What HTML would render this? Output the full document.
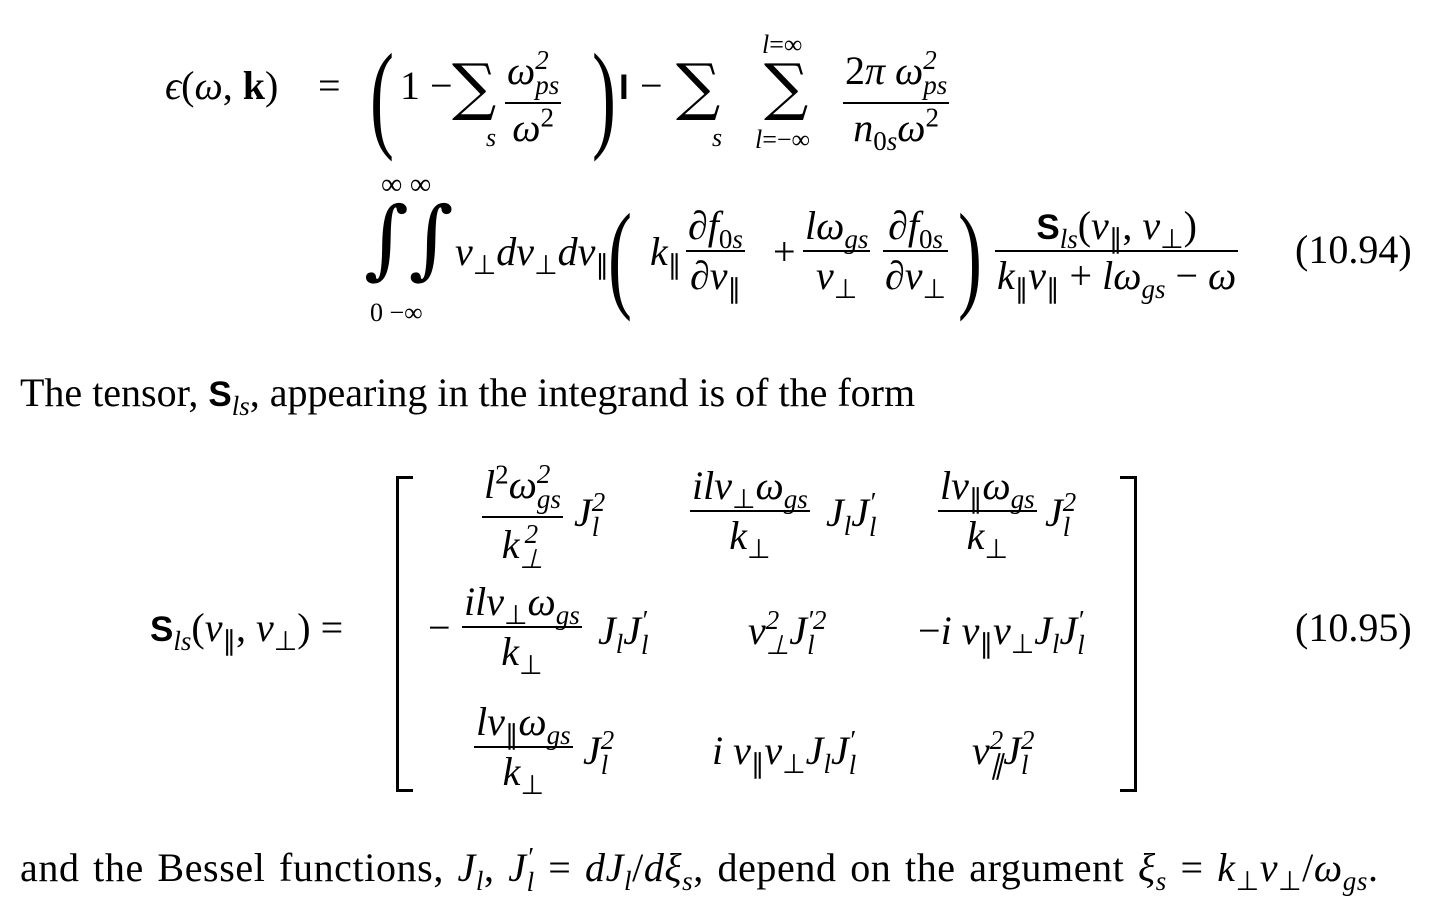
<!DOCTYPE html>
<html><head><meta charset="utf-8">
<style>
body{margin:0;background:#fff;width:1445px;height:889px;overflow:hidden;position:relative;font-family:"Liberation Serif",serif;color:#000;}
.a{position:absolute;white-space:nowrap;font-size:40px;line-height:1;}
i{font-style:italic}
sub,sup{font-size:27px;line-height:0}
.ss{display:inline-flex;flex-direction:column;vertical-align:15px;font-size:27px;line-height:25px;font-style:italic}
.fr{position:absolute;display:flex;flex-direction:column;align-items:center;font-size:40px;line-height:1;white-space:nowrap}
.fr .n{padding:0 2px 4px}
.fr .d{border-top:2px solid #000;padding:4px 2px 0;align-self:stretch;text-align:center}
.big{position:absolute;font-family:"DejaVu Serif",serif;line-height:1}
.par{position:absolute;font-family:"Liberation Serif",serif;line-height:1;font-size:120px;transform:scaleX(0.6);transform-origin:left top}
.sans{font-family:"Liberation Sans",sans-serif;font-weight:bold;font-size:35px}
.br{position:absolute;border:3px solid #000;width:14px}
</style></head><body>

<!-- Equation 10.94 line 1 -->
<div class="a" style="left:165px;top:66px"><i>ϵ</i>(<i>ω</i>, <b>k</b>)</div>
<div class="a" style="left:318px;top:66px">=</div>
<div class="par" style="left:370px;top:36px">(</div>
<div class="a" style="left:400px;top:66px">1 −</div>
<div class="big" style="left:452px;top:56px;font-size:62px">∑</div>
<div class="a" style="left:486px;top:125px;font-size:26px"><i>s</i></div>
<div class="fr" style="left:505px;top:48px"><div class="n"><i>ω</i><span class="ss"><span>2</span><span>ps</span></span></div><div class="d"><i>ω</i><sup>2</sup></div></div>
<div class="par" style="left:592px;top:36px">)</div>
<div class="a sans" style="left:619px;top:70px">I</div>
<div class="a" style="left:640px;top:66px">−</div>
<div class="big" style="left:676px;top:56px;font-size:62px">∑</div>
<div class="a" style="left:712px;top:125px;font-size:26px"><i>s</i></div>
<div class="a" style="left:762px;top:32px;font-size:26px"><i>l</i>=∞</div>
<div class="big" style="left:764px;top:56px;font-size:62px">∑</div>
<div class="a" style="left:755px;top:127px;font-size:26px"><i>l</i>=−∞</div>
<div class="fr" style="left:843px;top:48px"><div class="n">2<i>π ω</i><span class="ss"><span>2</span><span>ps</span></span></div><div class="d"><i>n</i><sub>0<i>s</i></sub><i>ω</i><sup>2</sup></div></div>

<!-- line 2 -->
<div class="a" style="left:381px;top:170px;font-size:30px">∞ ∞</div>
<div class="big" style="left:364px;top:196px;font-size:86px;font-style:italic">∫∫</div>
<div class="a" style="left:370px;top:300px;font-size:26px">0 −∞</div>
<div class="a" style="left:455px;top:232px"><i>v</i><sub>⊥</sub><i>dv</i><sub>⊥</sub><i>dv</i><sub>∥</sub></div>
<div class="par" style="left:608px;top:196px">(</div>
<div class="a" style="left:650px;top:232px"><i>k</i><sub>∥</sub></div>
<div class="fr" style="left:686px;top:206px"><div class="n">∂<i>f</i><sub>0<i>s</i></sub></div><div class="d">∂<i>v</i><sub>∥</sub></div></div>
<div class="a" style="left:773px;top:232px">+</div>
<div class="fr" style="left:803px;top:206px"><div class="n"><i>lω</i><sub><i>gs</i></sub></div><div class="d"><i>v</i><sub>⊥</sub></div></div>
<div class="fr" style="left:883px;top:206px"><div class="n">∂<i>f</i><sub>0<i>s</i></sub></div><div class="d">∂<i>v</i><sub>⊥</sub></div></div>
<div class="par" style="left:958px;top:196px">)</div>
<div class="fr" style="left:995px;top:206px"><div class="n"><span class="sans">S</span><sub><i>ls</i></sub>(<i>v</i><sub>∥</sub>, <i>v</i><sub>⊥</sub>)</div><div class="d"><i>k</i><sub>∥</sub><i>v</i><sub>∥</sub> + <i>lω</i><sub><i>gs</i></sub> − <i>ω</i></div></div>
<div class="a" style="left:1295px;top:230px">(10.94)</div>

<!-- text line -->
<div class="a" style="left:20px;top:373px">The tensor, <span class="sans">S</span><sub><i>ls</i></sub>, appearing in the integrand is of the form</div>

<!-- matrix -->
<div class="a" style="left:150px;top:608px"><span class="sans">S</span><sub><i>ls</i></sub>(<i>v</i><sub>∥</sub>, <i>v</i><sub>⊥</sub>) =</div>
<div class="br" style="left:396px;top:476px;height:310px;border-right:none"></div>
<div class="br" style="left:1120px;top:476px;height:310px;border-left:none"></div>

<div class="fr" style="left:482px;top:462px"><div class="n"><i>l</i><sup>2</sup><i>ω</i><span class="ss"><span>2</span><span>gs</span></span></div><div class="d"><i>k</i><span class="ss"><span>2</span><span>⊥</span></span></div></div>
<div class="a" style="left:574px;top:490px"><i>J</i><span class="ss"><span>2</span><span>l</span></span></div>
<div class="fr" style="left:690px;top:466px"><div class="n"><i>ilv</i><sub>⊥</sub><i>ω</i><sub><i>gs</i></sub></div><div class="d"><i>k</i><sub>⊥</sub></div></div>
<div class="a" style="left:826px;top:490px"><i>J<sub>l</sub>J</i><span class="ss"><span>′</span><span>l</span></span></div>
<div class="fr" style="left:938px;top:466px"><div class="n"><i>lv</i><sub>∥</sub><i>ω</i><sub><i>gs</i></sub></div><div class="d"><i>k</i><sub>⊥</sub></div></div>
<div class="a" style="left:1045px;top:490px"><i>J</i><span class="ss"><span>2</span><span>l</span></span></div>

<div class="a" style="left:428px;top:608px">−</div>
<div class="fr" style="left:462px;top:582px"><div class="n"><i>ilv</i><sub>⊥</sub><i>ω</i><sub><i>gs</i></sub></div><div class="d"><i>k</i><sub>⊥</sub></div></div>
<div class="a" style="left:598px;top:608px"><i>J<sub>l</sub>J</i><span class="ss"><span>′</span><span>l</span></span></div>
<div class="a" style="left:748px;top:608px"><i>v</i><span class="ss"><span>2</span><span>⊥</span></span><i>J</i><span class="ss"><span>′2</span><span>l</span></span></div>
<div class="a" style="left:918px;top:608px">−<i>i v</i><sub>∥</sub><i>v</i><sub>⊥</sub><i>J<sub>l</sub>J</i><span class="ss"><span>′</span><span>l</span></span></div>

<div class="fr" style="left:474px;top:702px"><div class="n"><i>lv</i><sub>∥</sub><i>ω</i><sub><i>gs</i></sub></div><div class="d"><i>k</i><sub>⊥</sub></div></div>
<div class="a" style="left:583px;top:728px"><i>J</i><span class="ss"><span>2</span><span>l</span></span></div>
<div class="a" style="left:712px;top:728px"><i>i v</i><sub>∥</sub><i>v</i><sub>⊥</sub><i>J<sub>l</sub>J</i><span class="ss"><span>′</span><span>l</span></span></div>
<div class="a" style="left:972px;top:728px"><i>v</i><span class="ss"><span>2</span><span>∥</span></span><i>J</i><span class="ss"><span>2</span><span>l</span></span></div>

<div class="a" style="left:1295px;top:608px">(10.95)</div>

<!-- bottom -->
<div class="a" style="left:20px;top:845px;word-spacing:3px;letter-spacing:0.6px">and the Bessel functions, <i>J<sub>l</sub></i>, <i>J</i><span class="ss"><span>′</span><span>l</span></span> = <i>dJ<sub>l</sub></i>/<i>dξ<sub>s</sub></i>, depend on the argument <i>ξ<sub>s</sub></i> = <i>k</i><sub>⊥</sub><i>v</i><sub>⊥</sub>/<i>ω</i><sub><i>gs</i></sub>.</div>
</body></html>
